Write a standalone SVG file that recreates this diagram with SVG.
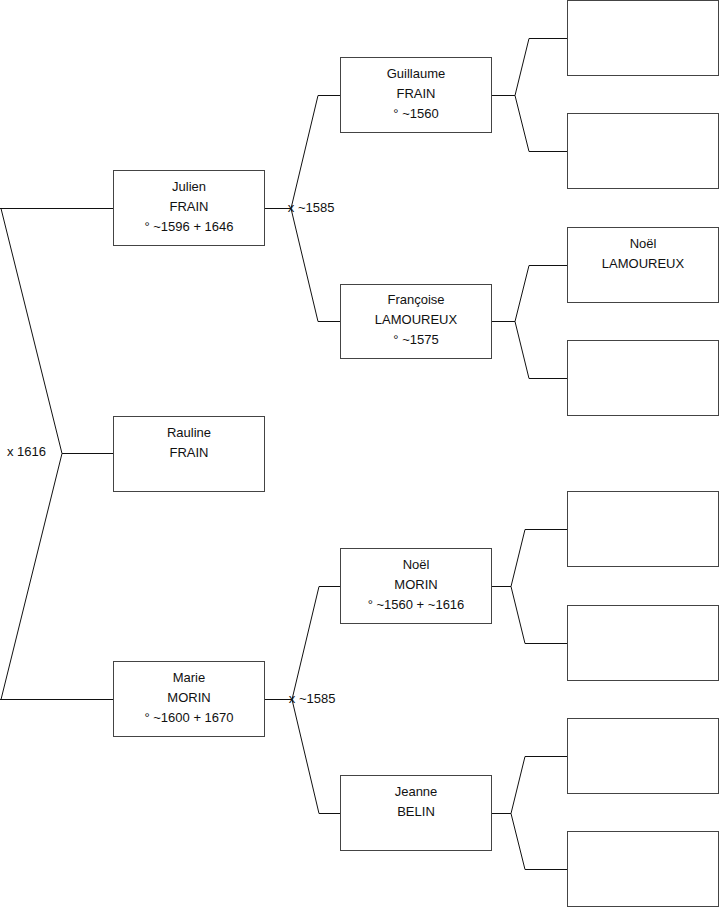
<svg xmlns="http://www.w3.org/2000/svg" width="719" height="908" viewBox="0 0 719 908">
<style>
.box{fill:#fff;stroke:#444;stroke-width:1}
.c{fill:none;stroke:#111;stroke-width:1}
text{font-family:"Liberation Sans",Arial,sans-serif;font-size:13px;fill:#111}
.m{text-anchor:middle}
</style>
<rect width="719" height="908" fill="#fff"/>
<g id="connectors">
<path class="c" d="M0,208.5H114M0,699.5H114M1,208.5L62,453.5L1,699.5M62,453.5H114"/>
<path class="c" d="M265,208.5H291M341,95.5H318L291,208.5L318,321.5H341"/>
<path class="c" d="M265,699.5H292M341,586.5H319L292,699.5L319,813.5H341"/>
<path class="c" d="M492,95.5H515M567,38.5H529L515,95.5L529,151.5H567"/>
<path class="c" d="M492,321.5H515M567,265.5H529L515,321.5L529,378.5H567"/>
<path class="c" d="M492,586.5H511M567,529.5H525L511,586.5L525,643.5H567"/>
<path class="c" d="M492,813.5H511M567,756.5H525L511,813.5L525,869.5H567"/>
<text x="7" y="456">x 1616</text>
<text x="291" y="212" class="m">x</text>
<text x="298" y="212">~1585</text>
<text x="292" y="703" class="m">x</text>
<text x="299" y="703">~1585</text>
</g>
<g id="julien"><rect class="box" x="113.5" y="170.5" width="151" height="75"/>
<text class="m" x="189" y="191">Julien</text><text class="m" x="189" y="211">FRAIN</text><text class="m" x="189" y="231">° ~1596 + 1646</text></g>
<g id="rauline"><rect class="box" x="113.5" y="416.5" width="151" height="75"/>
<text class="m" x="189" y="437">Rauline</text><text class="m" x="189" y="457">FRAIN</text></g>
<g id="marie"><rect class="box" x="113.5" y="661.5" width="151" height="75"/>
<text class="m" x="189" y="682">Marie</text><text class="m" x="189" y="702">MORIN</text><text class="m" x="189" y="722">° ~1600 + 1670</text></g>
<g id="guillaume"><rect class="box" x="340.5" y="57.5" width="151" height="75"/>
<text class="m" x="416" y="78">Guillaume</text><text class="m" x="416" y="98">FRAIN</text><text class="m" x="416" y="118">° ~1560</text></g>
<g id="francoise"><rect class="box" x="340.5" y="284.5" width="151" height="74"/>
<text class="m" x="416" y="304">Françoise</text><text class="m" x="416" y="324">LAMOUREUX</text><text class="m" x="416" y="344">° ~1575</text></g>
<g id="noel-morin"><rect class="box" x="340.5" y="548.5" width="151" height="75"/>
<text class="m" x="416" y="569">Noël</text><text class="m" x="416" y="589">MORIN</text><text class="m" x="416" y="609">° ~1560 + ~1616</text></g>
<g id="jeanne"><rect class="box" x="340.5" y="775.5" width="151" height="75"/>
<text class="m" x="416" y="796">Jeanne</text><text class="m" x="416" y="816">BELIN</text></g>
<g id="r1"><rect class="box" x="567.5" y="0.5" width="151" height="75"/></g>
<g id="r2"><rect class="box" x="567.5" y="113.5" width="151" height="75"/></g>
<g id="noel-lamoureux"><rect class="box" x="567.5" y="227.5" width="151" height="75"/>
<text class="m" x="643" y="248">Noël</text><text class="m" x="643" y="268">LAMOUREUX</text></g>
<g id="r4"><rect class="box" x="567.5" y="340.5" width="151" height="75"/></g>
<g id="r5"><rect class="box" x="567.5" y="491.5" width="151" height="75"/></g>
<g id="r6"><rect class="box" x="567.5" y="605.5" width="151" height="75"/></g>
<g id="r7"><rect class="box" x="567.5" y="718.5" width="151" height="75"/></g>
<g id="r8"><rect class="box" x="567.5" y="831.5" width="151" height="75"/></g>
</svg>
